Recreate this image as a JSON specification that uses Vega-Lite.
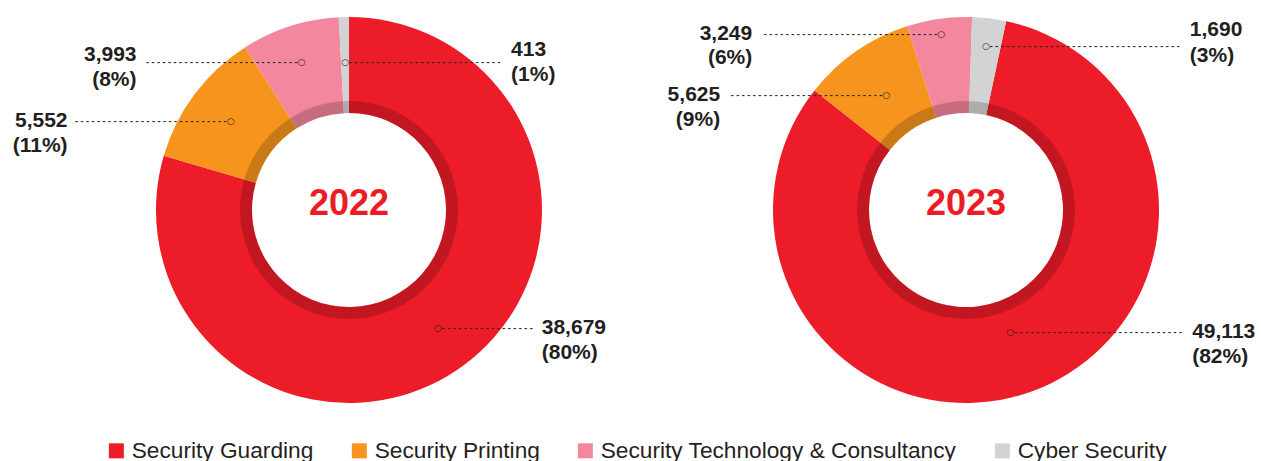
{
  "$schema": "https://vega.github.io/schema/vega-lite/v6.json",
  "background": "white",
  "padding": 0,
  "autosize": {"type": "pad"},
  "spacing": 0,
  "bounds": "flush",
  "config": {"view": {"stroke": null}, "text": {"font": "Liberation Sans"}},
  "data": {"values": [
    {"year": "2022", "category": "Security Guarding", "value": 38679, "pct": "(80%)", "rank": 1},
    {"year": "2022", "category": "Security Printing", "value": 5552, "pct": "(11%)", "rank": 2},
    {"year": "2022", "category": "Security Technology & Consultancy", "value": 3993, "pct": "(8%)", "rank": 3},
    {"year": "2022", "category": "Cyber Security", "value": 413, "pct": "(1%)", "rank": 4},
    {"year": "2023", "category": "Security Guarding", "value": 49113, "pct": "(82%)", "rank": 1},
    {"year": "2023", "category": "Security Printing", "value": 5625, "pct": "(9%)", "rank": 2},
    {"year": "2023", "category": "Security Technology & Consultancy", "value": 3249, "pct": "(6%)", "rank": 3},
    {"year": "2023", "category": "Cyber Security", "value": 1690, "pct": "(3%)", "rank": 4}
  ]},
  "resolve": {"scale": {"color": "shared", "theta": "independent"}, "legend": {"color": "shared"}},
  "hconcat": [
    {
      "width": 698, "height": 420,
      "transform": [{"filter": "datum.year === '2022'"}],
      "encoding": {
        "theta": {"field": "value", "type": "quantitative", "stack": true},
        "order": {"field": "rank", "type": "quantitative"},
        "detail": {"field": "category", "type": "nominal"}
      },
      "layer": [
        {"mark": {"type": "arc", "innerRadius": 97, "outerRadius": 193},
         "encoding": {
           "color": {"field": "category", "type": "nominal",
             "scale": {"domain": ["Security Guarding", "Security Printing", "Security Technology & Consultancy", "Cyber Security"], "range": ["#ed1c29", "#f7941d", "#f2879d", "#d1d3d4"]},
             "legend": {"orient": "none", "legendX": 105, "legendY": 439, "direction": "horizontal", "columns": 4, "title": null, "symbolType": "square", "symbolSize": 225, "symbolStrokeWidth": 0, "labelFont": "Liberation Sans", "labelFontSize": 22.7, "labelColor": "#231f20", "labelOffset": 4, "labelLimit": 600, "columnPadding": 34, "padding": 0}}
         }},
        {"mark": {"type": "arc", "innerRadius": 97, "outerRadius": 109, "fill": "#000000", "fillOpacity": 0.18}},
        {"transform": [{"filter": "datum.category === 'Security Guarding'"}],
         "mark": {"type": "text", "fontWeight": "bold", "fontSize": 36, "fill": "#ed1c24", "dy": -6},
         "encoding": {"theta": null, "text": {"field": "year", "type": "nominal"}}},

        {"mark": {"type": "text", "radius": 148, "font": "DejaVu Sans", "fontSize": 9, "fill": "#231f20"},
         "encoding": {"text": {"condition": {"test": "datum.category === 'Security Guarding'", "value": "○"}, "value": ""}}},
        {"mark": {"type": "text", "radius": 148, "align": "left", "dx": 4, "fontWeight": "bold", "fontSize": 9, "fill": "#222222"},
         "encoding": {"text": {"condition": {"test": "datum.category === 'Security Guarding'", "value": "- - - - - - - - - - - - - - - - -"}, "value": ""}}},
        {"mark": {"type": "text", "radius": 148, "align": "left", "dx": 104, "fontWeight": "bold", "fontSize": 21, "fill": "#231f20"},
         "encoding": {"text": {"condition": {"test": "datum.category === 'Security Guarding'", "field": "value", "type": "quantitative", "format": ","}, "value": ""}}},
        {"mark": {"type": "text", "radius": 148, "align": "left", "dx": 104, "dy": 25, "fontWeight": "bold", "fontSize": 21, "fill": "#231f20"},
         "encoding": {"text": {"condition": {"test": "datum.category === 'Security Guarding'", "field": "pct", "type": "nominal"}, "value": ""}}},

        {"mark": {"type": "text", "radius": 148, "font": "DejaVu Sans", "fontSize": 9, "fill": "#231f20"},
         "encoding": {"text": {"condition": {"test": "datum.category === 'Security Printing'", "value": "○"}, "value": ""}}},
        {"mark": {"type": "text", "radius": 148, "align": "right", "dx": -4, "fontWeight": "bold", "fontSize": 9, "fill": "#222222"},
         "encoding": {"text": {"condition": {"test": "datum.category === 'Security Printing'", "value": "- - - - - - - - - - - - - - - - - - - - - - - - - - - -"}, "value": ""}}},
        {"mark": {"type": "text", "radius": 148, "align": "right", "dx": -163, "fontWeight": "bold", "fontSize": 21, "fill": "#231f20"},
         "encoding": {"text": {"condition": {"test": "datum.category === 'Security Printing'", "field": "value", "type": "quantitative", "format": ","}, "value": ""}}},
        {"mark": {"type": "text", "radius": 148, "align": "right", "dx": -163, "dy": 25, "fontWeight": "bold", "fontSize": 21, "fill": "#231f20"},
         "encoding": {"text": {"condition": {"test": "datum.category === 'Security Printing'", "field": "pct", "type": "nominal"}, "value": ""}}},

        {"mark": {"type": "text", "radius": 155, "font": "DejaVu Sans", "fontSize": 9, "fill": "#231f20"},
         "encoding": {"text": {"condition": {"test": "datum.category === 'Security Technology & Consultancy'", "value": "○"}, "value": ""}}},
        {"mark": {"type": "text", "radius": 155, "align": "right", "dx": -4, "fontWeight": "bold", "fontSize": 9, "fill": "#222222"},
         "encoding": {"text": {"condition": {"test": "datum.category === 'Security Technology & Consultancy'", "value": "- - - - - - - - - - - - - - - - - - - - - - - - - - - -"}, "value": ""}}},
        {"mark": {"type": "text", "radius": 155, "align": "right", "dx": -165, "dy": -7, "fontWeight": "bold", "fontSize": 21, "fill": "#231f20"},
         "encoding": {"text": {"condition": {"test": "datum.category === 'Security Technology & Consultancy'", "field": "value", "type": "quantitative", "format": ","}, "value": ""}}},
        {"mark": {"type": "text", "radius": 155, "align": "right", "dx": -165, "dy": 18, "fontWeight": "bold", "fontSize": 21, "fill": "#231f20"},
         "encoding": {"text": {"condition": {"test": "datum.category === 'Security Technology & Consultancy'", "field": "pct", "type": "nominal"}, "value": ""}}},

        {"mark": {"type": "text", "radius": 148, "font": "DejaVu Sans", "fontSize": 9, "fill": "#231f20"},
         "encoding": {"text": {"condition": {"test": "datum.category === 'Cyber Security'", "value": "○"}, "value": ""}}},
        {"mark": {"type": "text", "radius": 148, "align": "left", "dx": 4, "fontWeight": "bold", "fontSize": 9, "fill": "#222222"},
         "encoding": {"text": {"condition": {"test": "datum.category === 'Cyber Security'", "value": "- - - - - - - - - - - - - - - - - - - - - - - - - - - -"}, "value": ""}}},
        {"mark": {"type": "text", "radius": 148, "align": "left", "dx": 166, "dy": -12, "fontWeight": "bold", "fontSize": 21, "fill": "#231f20"},
         "encoding": {"text": {"condition": {"test": "datum.category === 'Cyber Security'", "field": "value", "type": "quantitative", "format": ","}, "value": ""}}},
        {"mark": {"type": "text", "radius": 148, "align": "left", "dx": 166, "dy": 13, "fontWeight": "bold", "fontSize": 21, "fill": "#231f20"},
         "encoding": {"text": {"condition": {"test": "datum.category === 'Cyber Security'", "field": "pct", "type": "nominal"}, "value": ""}}}
      ]
    },
    {
      "width": 536, "height": 420,
      "transform": [{"filter": "datum.year === '2023'"}],
      "encoding": {
        "theta": {"field": "value", "type": "quantitative", "stack": true},
        "order": {"field": "rank", "type": "quantitative"},
        "detail": {"field": "category", "type": "nominal"}
      },
      "layer": [
        {"mark": {"type": "arc", "innerRadius": 97, "outerRadius": 193},
         "encoding": {
           "theta": {"field": "value", "type": "quantitative", "stack": true, "scale": {"range": [0.2094, 6.4926]}},
           "color": {"field": "category", "type": "nominal",
             "scale": {"domain": ["Security Guarding", "Security Printing", "Security Technology & Consultancy", "Cyber Security"], "range": ["#ed1c29", "#f7941d", "#f2879d", "#d1d3d4"]},
             "legend": {"orient": "none", "legendX": 105, "legendY": 439, "direction": "horizontal", "columns": 4, "title": null, "symbolType": "square", "symbolSize": 225, "symbolStrokeWidth": 0, "labelFont": "Liberation Sans", "labelFontSize": 22.7, "labelColor": "#231f20", "labelOffset": 4, "labelLimit": 600, "columnPadding": 34, "padding": 0}}
         }},
        {"mark": {"type": "arc", "innerRadius": 97, "outerRadius": 109, "fill": "#000000", "fillOpacity": 0.18}},
        {"transform": [{"filter": "datum.category === 'Security Guarding'"}],
         "mark": {"type": "text", "fontWeight": "bold", "fontSize": 36, "fill": "#ed1c24", "dy": -6},
         "encoding": {"theta": null, "text": {"field": "year", "type": "nominal"}}},

        {"mark": {"type": "text", "radius": 130, "font": "DejaVu Sans", "fontSize": 9, "fill": "#231f20"},
         "encoding": {"text": {"condition": {"test": "datum.category === 'Security Guarding'", "value": "○"}, "value": ""}}},
        {"mark": {"type": "text", "radius": 130, "align": "left", "dx": 4, "fontWeight": "bold", "fontSize": 9, "fill": "#222222"},
         "encoding": {"text": {"condition": {"test": "datum.category === 'Security Guarding'", "value": "- - - - - - - - - - - - - - - - - - - - - - - - - - - - - - -"}, "value": ""}}},
        {"mark": {"type": "text", "radius": 130, "align": "left", "dx": 182, "fontWeight": "bold", "fontSize": 21, "fill": "#231f20"},
         "encoding": {"text": {"condition": {"test": "datum.category === 'Security Guarding'", "field": "value", "type": "quantitative", "format": ","}, "value": ""}}},
        {"mark": {"type": "text", "radius": 130, "align": "left", "dx": 182, "dy": 25, "fontWeight": "bold", "fontSize": 21, "fill": "#231f20"},
         "encoding": {"text": {"condition": {"test": "datum.category === 'Security Guarding'", "field": "pct", "type": "nominal"}, "value": ""}}},

        {"mark": {"type": "text", "radius": 140, "font": "DejaVu Sans", "fontSize": 9, "fill": "#231f20"},
         "encoding": {"text": {"condition": {"test": "datum.category === 'Security Printing'", "value": "○"}, "value": ""}}},
        {"mark": {"type": "text", "radius": 140, "align": "right", "dx": -4, "fontWeight": "bold", "fontSize": 9, "fill": "#222222"},
         "encoding": {"text": {"condition": {"test": "datum.category === 'Security Printing'", "value": "- - - - - - - - - - - - - - - - - - - - - - - - - - - -"}, "value": ""}}},
        {"mark": {"type": "text", "radius": 140, "align": "right", "dx": -166, "fontWeight": "bold", "fontSize": 21, "fill": "#231f20"},
         "encoding": {"text": {"condition": {"test": "datum.category === 'Security Printing'", "field": "value", "type": "quantitative", "format": ","}, "value": ""}}},
        {"mark": {"type": "text", "radius": 140, "align": "right", "dx": -166, "dy": 25, "fontWeight": "bold", "fontSize": 21, "fill": "#231f20"},
         "encoding": {"text": {"condition": {"test": "datum.category === 'Security Printing'", "field": "pct", "type": "nominal"}, "value": ""}}},

        {"mark": {"type": "text", "radius": 178, "font": "DejaVu Sans", "fontSize": 9, "fill": "#231f20"},
         "encoding": {"text": {"condition": {"test": "datum.category === 'Security Technology & Consultancy'", "value": "○"}, "value": ""}}},
        {"mark": {"type": "text", "radius": 178, "align": "right", "dx": -4, "fontWeight": "bold", "fontSize": 9, "fill": "#222222"},
         "encoding": {"text": {"condition": {"test": "datum.category === 'Security Technology & Consultancy'", "value": "- - - - - - - - - - - - - - - - - - - - - - - - - - - - - - - -"}, "value": ""}}},
        {"mark": {"type": "text", "radius": 178, "align": "right", "dx": -189, "fontWeight": "bold", "fontSize": 21, "fill": "#231f20"},
         "encoding": {"text": {"condition": {"test": "datum.category === 'Security Technology & Consultancy'", "field": "value", "type": "quantitative", "format": ","}, "value": ""}}},
        {"mark": {"type": "text", "radius": 178, "align": "right", "dx": -189, "dy": 24, "fontWeight": "bold", "fontSize": 21, "fill": "#231f20"},
         "encoding": {"text": {"condition": {"test": "datum.category === 'Security Technology & Consultancy'", "field": "pct", "type": "nominal"}, "value": ""}}},

        {"mark": {"type": "text", "radius": 165, "font": "DejaVu Sans", "fontSize": 9, "fill": "#231f20"},
         "encoding": {"text": {"condition": {"test": "datum.category === 'Cyber Security'", "value": "○"}, "value": ""}}},
        {"mark": {"type": "text", "radius": 165, "align": "left", "dx": 4, "fontWeight": "bold", "fontSize": 9, "fill": "#222222"},
         "encoding": {"text": {"condition": {"test": "datum.category === 'Cyber Security'", "value": "- - - - - - - - - - - - - - - - - - - - - - - - - - - - - - - - - - -"}, "value": ""}}},
        {"mark": {"type": "text", "radius": 165, "align": "left", "dx": 204, "dy": -16, "fontWeight": "bold", "fontSize": 21, "fill": "#231f20"},
         "encoding": {"text": {"condition": {"test": "datum.category === 'Cyber Security'", "field": "value", "type": "quantitative", "format": ","}, "value": ""}}},
        {"mark": {"type": "text", "radius": 165, "align": "left", "dx": 204, "dy": 10, "fontWeight": "bold", "fontSize": 21, "fill": "#231f20"},
         "encoding": {"text": {"condition": {"test": "datum.category === 'Cyber Security'", "field": "pct", "type": "nominal"}, "value": ""}}}
      ]
    }
  ]
}
